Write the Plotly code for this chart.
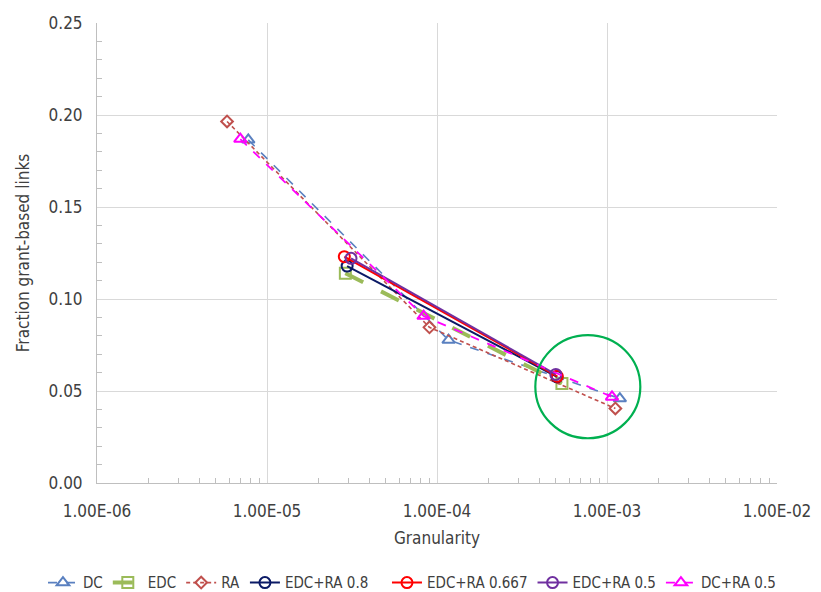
import plotly.graph_objects as go

# ---- data ----
dc_x = [7.76e-6, 1.17e-4, 1.19e-3]
dc_y = [0.1865, 0.0777, 0.0459]

edc_x = [2.89e-5, 5.43e-4]
edc_y = [0.1140, 0.0541]

ra_x = [5.82e-6, 9.03e-5, 1.12e-3]
ra_y = [0.1965, 0.0846, 0.0405]

edcra08_x = [2.96e-5, 5.08e-4]
edcra08_y = [0.1179, 0.0577]

edcra0667_x = [2.85e-5, 5.10e-4]
edcra0667_y = [0.1230, 0.0580]

edcra05_x = [3.12e-5, 5.00e-4]
edcra05_y = [0.1221, 0.0590]

dcra05_x = [6.97e-6, 8.34e-5, 1.07e-3]
dcra05_y = [0.1869, 0.0907, 0.0468]

x_tickvals = [1e-6, 1e-5, 1e-4, 1e-3, 1e-2]
x_ticktext = ["1.00E-06", "1.00E-05", "1.00E-04", "1.00E-03", "1.00E-02"]

FONT = "DejaVu Sans Condensed, Liberation Sans, Arial"
TXT = "#404040"

series = [
    ("DC", dc_x, dc_y, "#5a80c0", "dash", 1.6, "triangle-up-open", 11, "legend"),
    ("EDC", edc_x, edc_y, "#9bbb59", "longdash", 4, "square-open", 11, "legend"),
    ("RA", ra_x, ra_y, "#c0504d", "4px,3px", 1.6, "diamond-open", 9, "legend"),
    ("EDC+RA 0.8", edcra08_x, edcra08_y, "#0b1a66", "solid", 2, "circle-open", 11, "legend"),
    ("EDC+RA 0.667", edcra0667_x, edcra0667_y, "#ff0000", "solid", 2, "circle-open", 11, "legend2"),
    ("EDC+RA 0.5", edcra05_x, edcra05_y, "#7030a0", "solid", 2, "circle-open", 11, "legend2"),
    ("DC+RA 0.5", dcra05_x, dcra05_y, "#ff00ff", "dash", 1.8, "triangle-up-open", 11, "legend2"),
]

fig = go.Figure()
for name, xs, ys, col, dash, w, sym, sz, lg in series:
    fig.add_trace(go.Scatter(
        x=xs, y=ys, name=name, mode="lines+markers", legend=lg,
        line=dict(color=col, dash=dash, width=w),
        marker=dict(symbol=sym, size=sz, color=col, line=dict(color=col, width=2)),
    ))

minor_x = [m * 10 ** e for e in range(-6, -2) for m in range(2, 10)]

fig.add_shape(type="circle", xref="x domain", yref="y domain",
              x0=0.6446, x1=0.799, y0=0.0973, y1=0.3215,
              line=dict(color="#00b050", width=2.2))

legend_common = dict(orientation="h", xref="container", yref="container",
                     y=0.029, yanchor="middle", font=dict(size=15, color=TXT),
                     itemwidth=30, tracegroupgap=0, bgcolor="rgba(0,0,0,0)")

fig.update_layout(
    width=821, height=592,
    margin=dict(l=89, r=52, t=15, b=117),
    paper_bgcolor="white", plot_bgcolor="white",
    font=dict(family=FONT, size=17, color=TXT),
    showlegend=True,
    legend=dict(x=0.0426, xanchor="left", **legend_common),
    legend2=dict(x=0.9415, xanchor="right", **legend_common),
)
fig.update_xaxes(
    type="log", range=[-6, -2], automargin=False,
    tickmode="array", tickvals=x_tickvals, ticktext=x_ticktext,
    showgrid=True, gridcolor="#d9d9d9", gridwidth=1,
    showline=True, linecolor="#bfbfbf", linewidth=1, mirror=False,
    ticks="", tickfont=dict(size=17, color=TXT), ticklabelstandoff=13,
    minor=dict(tickmode="array", tickvals=minor_x, ticks="inside", ticklen=5,
               tickcolor="#bfbfbf", showgrid=False),
    title=dict(text="Granularity", font=dict(size=17, color=TXT), standoff=11),
    zeroline=False,
)
fig.update_yaxes(
    range=[0, 0.25], dtick=0.05, tickformat=".2f", automargin=False,
    showgrid=True, gridcolor="#d9d9d9", gridwidth=1,
    showline=True, linecolor="#bfbfbf", linewidth=1,
    ticks="", tickfont=dict(size=17, color=TXT), ticklabelstandoff=10,
    minor=dict(dtick=0.01, ticks="inside", ticklen=5, tickcolor="#bfbfbf", showgrid=False),
    title=dict(text="Fraction grant-based links", font=dict(size=17, color=TXT), standoff=14),
    zeroline=False,
)

fig.write_html("out.html")
